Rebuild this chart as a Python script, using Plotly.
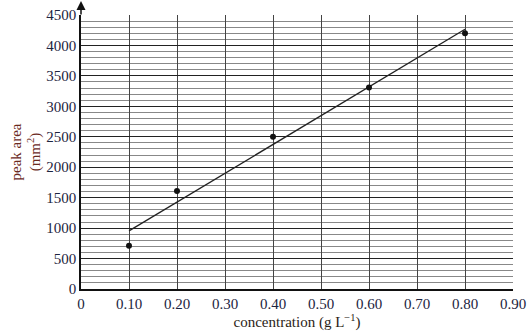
import plotly.graph_objects as go

conc = [0.10, 0.20, 0.40, 0.60, 0.80]
peak_area = [710, 1610, 2500, 3310, 4200]
fit_x = [0.10, 0.80]
fit_y = [955, 4265]
x_ticks = [0, 0.1, 0.2, 0.3, 0.4, 0.5, 0.6, 0.7, 0.8, 0.9]
x_labels = ["0", "0.10", "0.20", "0.30", "0.40", "0.50", "0.60", "0.70", "0.80", "0.90"]
y_ticks = [0, 500, 1000, 1500, 2000, 2500, 3000, 3500, 4000, 4500]

font = "Liberation Serif"
tick_color = "#1c2440"

fig = go.Figure()
fig.add_trace(go.Scatter(x=fit_x, y=fit_y, mode="lines",
                         line=dict(color="#222222", width=1.3), showlegend=False))
fig.add_trace(go.Scatter(x=conc, y=peak_area, mode="markers",
                         marker=dict(color="#111111", size=6), showlegend=False))

fig.update_xaxes(range=[0, 0.9], tickvals=x_ticks, ticktext=x_labels,
                 automargin=False,
                 showgrid=True, gridcolor="#444444", gridwidth=1,
                 showline=True, linecolor="#111111", linewidth=1.5,
                 zeroline=False, ticks="", ticklen=0,
                 tickfont=dict(family=font, size=15, color=tick_color),
                 title=dict(text="concentration (g L<sup>−1</sup>)",
                            font=dict(family=font, size=15, color="#2b1d15"),
                            standoff=4))
fig.update_yaxes(range=[0, 4500], tickvals=y_ticks,
                 automargin=False,
                 showgrid=True, gridcolor="#222222", gridwidth=1,
                 minor=dict(dtick=100, showgrid=True, gridcolor="#888888", gridwidth=1),
                 showline=True, linecolor="#111111", linewidth=1.5,
                 zeroline=False, ticks="", ticklen=0,
                 tickfont=dict(family=font, size=15, color=tick_color),
                 title=dict(text="peak area<br>(mm<sup>2</sup>)",
                            font=dict(family=font, size=15, color="#6b2a1e"),
                            standoff=2))

# axis arrows
fig.add_annotation(x=0, y=1.055, xref="x", yref="paper", ax=0, ay=16,
                   showarrow=True, arrowhead=2, arrowsize=1.2, arrowwidth=1.5,
                   arrowcolor="#111111", text="")
fig.add_annotation(x=0.938, y=0, xref="x", yref="y", ax=-20, ay=0,
                   showarrow=True, arrowhead=2, arrowsize=1.2, arrowwidth=1.5,
                   arrowcolor="#111111", text="")

fig.update_layout(width=531, height=336, margin=dict(l=81, r=18, t=15, b=47),
                  plot_bgcolor="white", paper_bgcolor="white",
                  font=dict(family=font))
fig.write_html("out.html")
